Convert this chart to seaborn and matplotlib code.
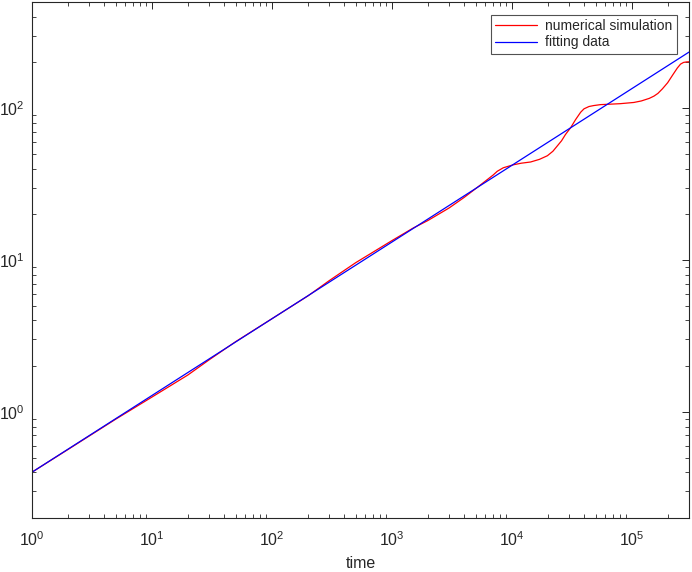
import numpy as np
import pandas as pd
import seaborn as sns
import matplotlib.pyplot as plt

# numerical simulation
sim_time = [1, 2, 5, 10, 20, 30, 50, 100, 200, 300, 500, 1000, 1500, 2000,
            3000, 4000, 5000, 6000, 7000, 7570, 8500, 10350, 12000, 14350,
            17000, 19800, 22000, 24000, 26000, 28000, 31000, 34000, 37500,
            40000, 44000, 48200, 55000, 62700, 80000, 104000, 120000, 140000,
            153000, 165000, 180000, 199000, 220000, 240000, 255000, 270000,
            285000, 300000]
sim_value = [0.4, 0.565, 0.895, 1.25, 1.75, 2.2, 2.9, 4.1, 5.8, 7.3, 9.6,
             13.4, 16.2, 18.2, 22.0, 25.8, 29.5, 33.0, 36.3, 38.4, 40.5, 42.4,
             43.4, 44.2, 46.0, 48.6, 52.0, 56.5, 61.0, 67.0, 74.5, 84.0, 94.0,
             99.0, 102.5, 104.0, 105.5, 106.0, 107.0, 109.0, 111.5, 116.0,
             120.0, 125.0, 134.0, 147.0, 166.0, 184.0, 195.0, 200.0, 201.5,
             202.0]

# fitted power law (straight line on log-log axes)
fit_time = [1, 300000]
fit_value = [0.4, 234.0]

sns.set_theme(style="white")
plt.rcParams['font.family'] = ['Liberation Sans', 'DejaVu Sans']
plt.rcParams['mathtext.fontset'] = 'custom'
plt.rcParams['mathtext.rm'] = 'Liberation Sans'

df_sim = pd.DataFrame({'time': sim_time, 'value': sim_value})
df_fit = pd.DataFrame({'time': fit_time, 'value': fit_value})

fig = plt.figure(figsize=(6.92, 5.72), dpi=100)
ax = fig.add_axes([0.046, 0.0944, 0.9497, 0.9021])

sns.lineplot(data=df_sim, x='time', y='value', color='red', lw=0.9,
             label='numerical simulation', ax=ax)
sns.lineplot(data=df_fit, x='time', y='value', color='blue', lw=0.9,
             label='fitting data', ax=ax)

ax.set(xscale='log', yscale='log')
ax.set_xlim(1, 3e5)
ax.set_ylim(0.2, 500)
ax.set_xlabel('time', fontsize=11.5, color='0.15', labelpad=5)
ax.set_ylabel('')

grey = '0.15'
for s in ax.spines.values():
    s.set_color(grey)
    s.set_linewidth(0.8)
ax.tick_params(which='both', direction='in', top=True, right=True,
               colors=grey, labelsize=11.5)
ax.tick_params(which='major', length=5, width=0.7, pad=5)
ax.tick_params(axis='x', which='major', pad=9)
ax.tick_params(which='minor', length=3, width=0.6, left=True, bottom=True)

leg = ax.legend(loc='upper right', fontsize=10, frameon=True, fancybox=False,
                borderaxespad=0.9, handlelength=3.0, borderpad=0.3,
                labelspacing=0.2, handletextpad=0.6)
leg.get_frame().set_edgecolor(grey)
leg.get_frame().set_linewidth(0.8)

fig.savefig('out.png', dpi=100)
